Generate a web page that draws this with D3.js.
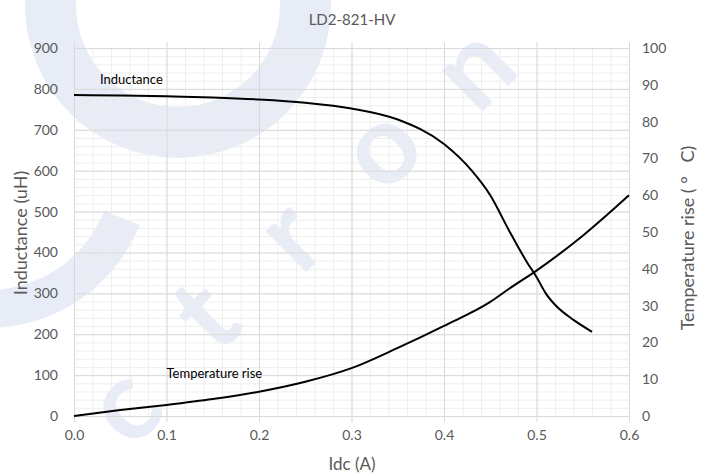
<!DOCTYPE html>
<html>
<head>
<meta charset="utf-8">
<script src="https://cdn.jsdelivr.net/npm/d3@7"></script>
<style>
  body { margin: 0; background: #fff; }
  text { font-family: Lato, "Open Sans", sans-serif; }
</style>
</head>
<body>
<div id="chart"></div>
<script>
// values
var idc = [0, 0.05, 0.1, 0.15, 0.2, 0.25, 0.3, 0.35, 0.4, 0.43, 0.45, 0.47, 0.49, 0.5, 0.51, 0.52, 0.54, 0.56];
var inductance = [785, 784, 782, 779, 774, 766, 752, 725, 665, 600, 540, 455, 375, 340, 300, 272, 235, 206];

var idcT = [0, 0.05, 0.1, 0.15, 0.2, 0.25, 0.3, 0.35, 0.4, 0.45, 0.47, 0.5, 0.55, 0.6];
var tempRise = [0, 1.6, 3.0, 4.6, 6.6, 9.3, 13.0, 18.5, 24.5, 31, 34.5, 39.5, 49, 60];

var xTicks = [0, 0.1, 0.2, 0.3, 0.4, 0.5, 0.6];
var leftTicks = [0, 100, 200, 300, 400, 500, 600, 700, 800, 900];
var rightTicks = [0, 10, 20, 30, 40, 50, 60, 70, 80, 90, 100];

var W = 714, H = 476;
var margin = {top: 48, right: 85, bottom: 60, left: 74};
var width = W - margin.left - margin.right,
    height = H - margin.top - margin.bottom;

var svg = d3.select("#chart").append("svg")
    .attr("width", W)
    .attr("height", H);

// watermark behind everything
var wm = svg.append("g").attr("fill", "#e7ecf7");
wm.append("path")
    .attr("transform", "translate(178,5)")
    .attr("d", d3.arc()({innerRadius: 102, outerRadius: 153, startAngle: 0, endAngle: 2 * Math.PI}));
wm.append("path")
    .attr("transform", "translate(-12,165)")
    .attr("d", d3.arc()({innerRadius: 125, outerRadius: 163, startAngle: Math.PI * 0.62, endAngle: Math.PI * 1.05}));
var wmLetters = [["c", 150, 432], ["t", 232, 342], ["r", 316, 262], ["o", 407, 174], ["n", 500, 94]];
wm.selectAll("text.wm")
    .data(wmLetters)
    .enter()
    .append("text")
      .attr("class", "wm")
      .attr("transform", function(d) { return "translate(" + d[1] + "," + d[2] + ")rotate(-45)"; })
      .attr("text-anchor", "middle")
      .style("font-size", "112px")
      .style("font-weight", "bold")
      .text(function(d) { return d[0]; });

var g = svg.append("g")
    .attr("transform", "translate(" + margin.left + "," + margin.top + ")");

var x = d3.scaleLinear().domain([0, 0.6]).range([0, width]);
var yL = d3.scaleLinear().domain([0, 900]).range([height, 0]);
var yR = d3.scaleLinear().domain([0, 100]).range([height, 0]);

// minor grid
g.append("g")
    .call(d3.axisBottom(x).tickValues(d3.range(0, 31).map(function(i) { return i * 0.02; })).tickSize(-height).tickFormat(""))
    .attr("transform", "translate(0," + height + ")")
    .call(function(s) { s.select(".domain").remove(); s.selectAll("line").attr("stroke", "#eeeeee"); });
g.append("g")
    .call(d3.axisLeft(yL).tickValues(d3.range(0, 46).map(function(i) { return i * 20; })).tickSize(-width).tickFormat(""))
    .call(function(s) { s.select(".domain").remove(); s.selectAll("line").attr("stroke", "#eeeeee"); });

// major grid
g.append("g")
    .attr("transform", "translate(0," + height + ")")
    .call(d3.axisBottom(x).tickValues(xTicks).tickSize(-height - 6).tickFormat(""))
    .call(function(s) {
        s.select(".domain").remove();
        s.selectAll("line").attr("stroke", "#d9d9d9").attr("y1", 6);
    });
g.append("g")
    .call(d3.axisLeft(yL).tickValues(leftTicks).tickSize(-width).tickFormat(""))
    .call(function(s) { s.select(".domain").remove(); s.selectAll("line").attr("stroke", "#d9d9d9"); });

// axis labels
var xAxis = g.append("g")
    .attr("transform", "translate(0," + height + ")")
    .call(d3.axisBottom(x).tickValues(xTicks).tickSize(0).tickPadding(14).tickFormat(d3.format(".1f")));
xAxis.select(".domain").remove();
xAxis.selectAll("text").attr("fill", "#595959").style("font-size", "14px").style("font-family", "Lato, sans-serif");

var lAxis = g.append("g")
    .call(d3.axisLeft(yL).tickValues(leftTicks).tickSize(0).tickPadding(16));
lAxis.select(".domain").remove();
lAxis.selectAll("text").attr("fill", "#595959").style("font-size", "14px").style("font-family", "Lato, sans-serif");

var rAxis = g.append("g")
    .attr("transform", "translate(" + width + ",0)")
    .call(d3.axisRight(yR).tickValues(rightTicks).tickSize(0).tickPadding(13));
rAxis.select(".domain").remove();
rAxis.selectAll("text").attr("fill", "#595959").style("font-size", "14px").style("font-family", "Lato, sans-serif");

// curves
var lineL = d3.line()
    .x(function(d, i) { return x(idc[i]); })
    .y(function(d) { return yL(d); })
    .curve(d3.curveMonotoneX);
var lineR = d3.line()
    .x(function(d, i) { return x(idcT[i]); })
    .y(function(d) { return yR(d); })
    .curve(d3.curveMonotoneX);

g.append("path")
    .datum(inductance)
    .attr("d", lineL)
    .attr("fill", "none")
    .attr("stroke", "#000")
    .attr("stroke-width", 2);
g.append("path")
    .datum(tempRise)
    .attr("d", lineR)
    .attr("fill", "none")
    .attr("stroke", "#000")
    .attr("stroke-width", 2);

// series labels
g.append("text")
    .attr("x", x(0.028))
    .attr("y", yL(812))
    .style("font-size", "13px")
    .text("Inductance");
g.append("text")
    .attr("x", x(0.1))
    .attr("y", yL(94))
    .style("font-size", "13px")
    .text("Temperature rise");

// titles
svg.append("text")
    .attr("x", 352)
    .attr("y", 25)
    .attr("text-anchor", "middle")
    .attr("fill", "#595959")
    .style("font-size", "15px")
    .text("LD2-821-HV");

svg.append("text")
    .attr("x", 352)
    .attr("y", 470)
    .attr("text-anchor", "middle")
    .attr("fill", "#595959")
    .style("font-size", "17px")
    .text("Idc (A)");

svg.append("text")
    .attr("transform", "translate(27,233)rotate(-90)")
    .attr("text-anchor", "middle")
    .attr("fill", "#595959")
    .style("font-size", "18px")
    .text("Inductance (uH)");

svg.append("text")
    .attr("transform", "translate(694,238)rotate(-90)")
    .attr("text-anchor", "middle")
    .attr("fill", "#595959")
    .style("font-size", "18px")
    .style("white-space", "pre")
    .text("Temperature rise ( °   C)");
</script>
</body>
</html>
